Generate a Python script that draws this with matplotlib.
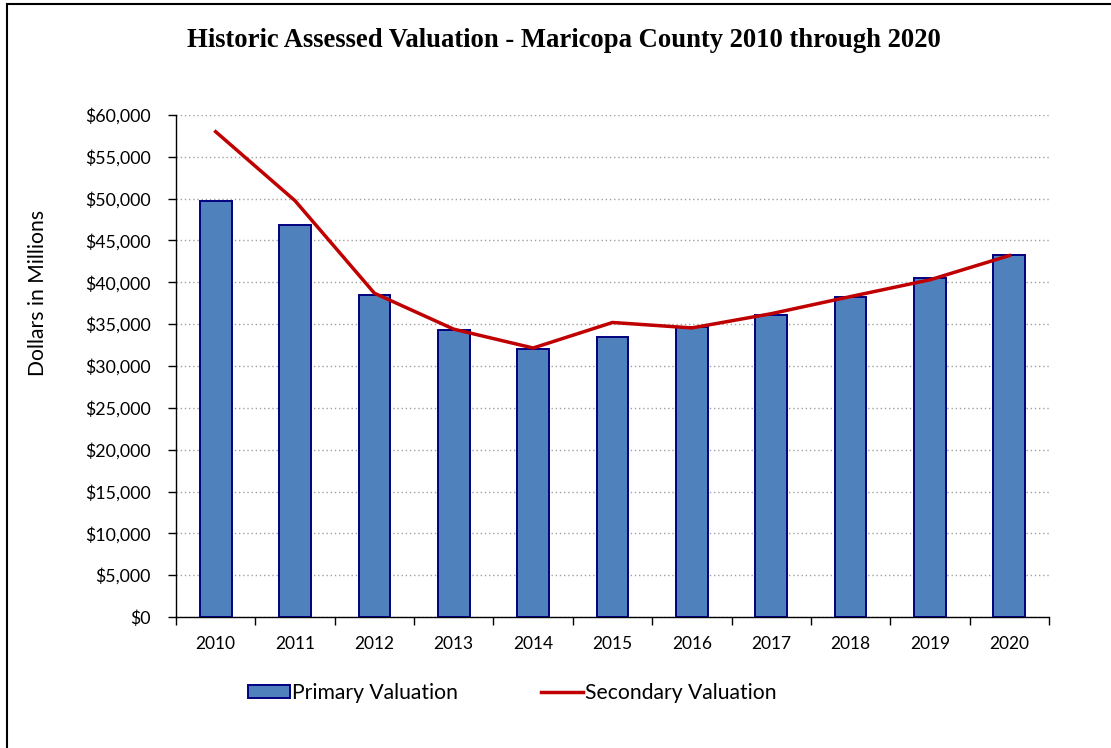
import matplotlib
matplotlib.use("Agg")
import matplotlib.pyplot as plt
from matplotlib.patches import Rectangle
from matplotlib.ticker import FuncFormatter, MultipleLocator

years = ["2010", "2011", "2012", "2013", "2014", "2015", "2016", "2017", "2018", "2019", "2020"]
primary = [49750, 46900, 38450, 34250, 32050, 33450, 34700, 36050, 38250, 40500, 43300]
secondary = [58000, 49750, 38700, 34400, 32150, 35200, 34550, 36250, 38300, 40300, 43200]

plt.rcParams['font.family'] = ['Lato', 'DejaVu Sans']

fig = plt.figure(figsize=(11.11, 7.48), dpi=100)
ax = fig.add_axes([0.1584, 0.1751, 0.7858, 0.6712])

x = list(range(len(years)))
bars = ax.bar(x, primary, width=0.4, color="#4F81BD", edgecolor="#000080", linewidth=1.4,
              label="Primary Valuation", zorder=3)
line, = ax.plot(x, secondary, color="#C00000", linewidth=2.5, label="Secondary Valuation", zorder=4)

ax.set_xlim(-0.5, len(years) - 0.5)
ax.set_ylim(0, 60000)
ax.yaxis.set_major_locator(MultipleLocator(5000))
ax.yaxis.set_major_formatter(FuncFormatter(lambda v, p: "${:,.0f}".format(v)))
ax.set_xticks([i - 0.5 for i in range(len(years) + 1)], minor=False)
ax.set_xticklabels([])
ax.set_xticks(x, minor=True)
ax.set_xticklabels(years, minor=True)
ax.tick_params(axis='x', which='minor', length=0, labelsize=12.5, pad=14)
ax.tick_params(axis='x', which='major', length=6, width=1, direction='out')
ax.tick_params(axis='y', length=6, width=1, direction='out', labelsize=12.8, pad=12)

ax.grid(axis='y', linestyle=(0, (1, 2)), color="#A0A0A0", linewidth=1.0, zorder=0)
ax.set_axisbelow(True)
for s in ['top', 'right']:
    ax.spines[s].set_visible(False)
ax.spines['left'].set_linewidth(1.0)
ax.spines['bottom'].set_linewidth(1.0)

ax.set_ylabel("Dollars in Millions", fontsize=15.2)
ax.yaxis.set_label_coords(-0.147, 0.645)

fig.text(0.5077, 0.946, "Historic Assessed Valuation - Maricopa County 2010 through 2020",
         ha='center', va='center', fontsize=19.2, fontweight='bold',
         family=['Liberation Serif', 'DejaVu Serif'])

fig.legend([bars, line], ["Primary Valuation", "Secondary Valuation"], loc='center',
           bbox_to_anchor=(0.461, 0.074), ncol=2, frameon=False,
           fontsize=15.2, handlelength=2.0, handleheight=0.55, handletextpad=0.1, columnspacing=3.9)

fig.add_artist(Rectangle((0.0063, -0.05), 1.2, 1.0 - 0.006 + 0.05, transform=fig.transFigure,
                         fill=False, edgecolor='black', linewidth=1.5))

fig.savefig("out.png", dpi=100)
